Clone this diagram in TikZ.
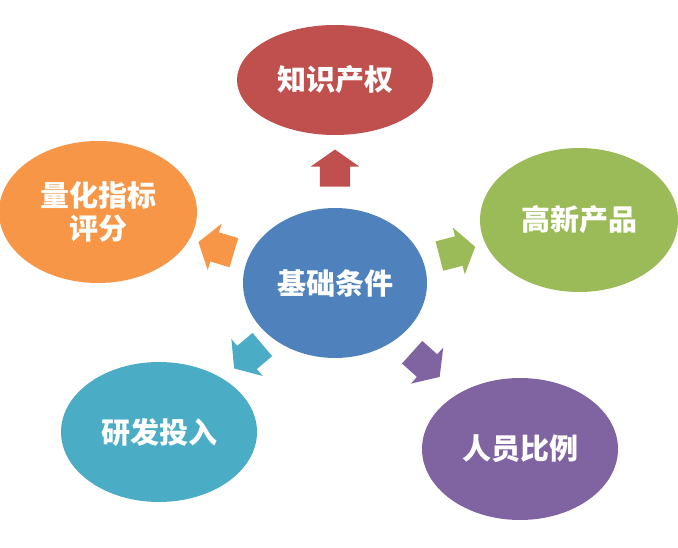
\documentclass[tikz,border=0pt]{standalone}
\usepackage{fontspec}
\newfontfamily\cjk{Noto Sans CJK SC}
\usetikzlibrary{shapes.geometric,shapes.arrows}
\definecolor{baseblue}{HTML}{4F81BD}
\definecolor{ipred}{HTML}{C0504D}
\definecolor{prodgreen}{HTML}{9BBB59}
\definecolor{staffpurple}{HTML}{8064A2}
\definecolor{rdteal}{HTML}{4BACC6}
\definecolor{scoreorange}{HTML}{F79646}
\begin{document}
\begin{tikzpicture}[
    x=1pt, y=1pt,
    bubble/.style={ellipse, inner sep=0pt, fill=#1, text=white, align=center,
        font=\cjk\bfseries\fontsize{29}{33}\selectfont},
    blockarr/.style={single arrow, draw=none, fill=#1, inner xsep=0pt, inner ysep=15pt,
        minimum height=37pt, single arrow head extend=9pt,
        single arrow tip angle=110, sloped, allow upside down}
]
\useasboundingbox (0,0) rectangle (678,547);

% Centre
\node[bubble=baseblue, minimum width=184pt, minimum height=150pt] (base) at (335,264) {基础条件};

% Outer bubbles
\node[bubble=ipred, minimum width=196pt, minimum height=110pt] (ip) at (335,467) {知识产权};
\node[bubble=prodgreen, minimum width=198pt, minimum height=144pt] (prod) at (579,327) {高新产品};
\node[bubble=staffpurple, minimum width=196pt, minimum height=142pt] (staff) at (520,98) {人员比例};
\node[bubble=rdteal, minimum width=196pt, minimum height=140pt] (rd) at (159,115) {研发投入};
\node[bubble=scoreorange, minimum width=198pt, minimum height=142pt] (score) at (98,335) {量化指标\\评分};

% Arrows
\path (base.center) -- (ip.center) node[blockarr=ipred, pos=0.54] (a-ip) {};
\path (base.center) -- (prod.center) node[blockarr=prodgreen, pos=0.48] (a-prod) {};
\path (base.center) -- (staff.center) node[blockarr=staffpurple, pos=0.47] (a-staff) {};
\path (base.center) -- (rd.center) node[blockarr=rdteal, pos=0.47] (a-rd) {};
\path (base.center) -- (score.center) node[blockarr=scoreorange, pos=0.48] (a-score) {};

\end{tikzpicture}
\end{document}
